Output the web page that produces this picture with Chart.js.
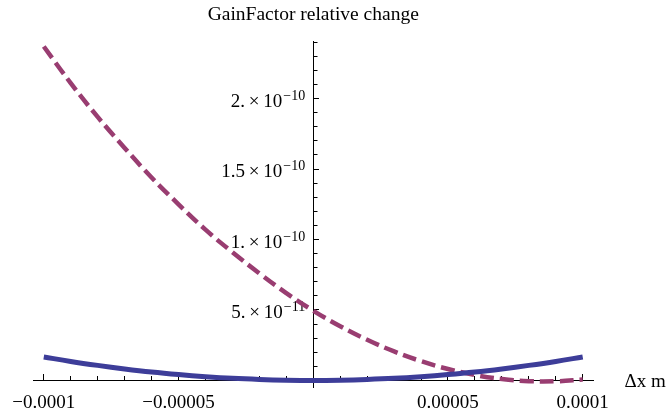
<!DOCTYPE html>
<html>
<head>
<meta charset="utf-8">
<script src="https://cdn.jsdelivr.net/npm/chart.js@4.4.1/dist/chart.umd.min.js"></script>
<style>
  html, body { margin: 0; padding: 0; background: #fff; }
  #wrap { width: 668px; height: 413px; }
</style>
</head>
<body>
<div id="wrap"><canvas id="chart" width="668" height="413"></canvas></div>
<script>
// values
const xs = [-0.0001, -0.00009, -0.00008, -0.00007, -0.00006, -0.00005, -0.00004,
  -0.00003, -0.00002, -0.00001, 0, 0.00001, 0.00002, 0.00003, 0.00004, 0.00005,
  0.00006, 0.00007, 0.00008, 0.00009, 0.0001];
const solidVals = [1.67e-11, 1.35e-11, 1.07e-11, 0.82e-11, 0.60e-11, 0.42e-11, 0.27e-11,
  0.15e-11, 0.07e-11, 0.02e-11, 0, 0.02e-11, 0.07e-11, 0.15e-11, 0.27e-11, 0.42e-11,
  0.60e-11, 0.82e-11, 1.07e-11, 1.35e-11, 1.67e-11];
const dashedVals = [2.37e-10, 2.11e-10, 1.87e-10, 1.65e-10, 1.44e-10, 1.25e-10, 1.07e-10,
  0.91e-10, 0.76e-10, 0.62e-10, 0.495e-10, 0.385e-10, 0.289e-10, 0.206e-10, 0.137e-10,
  0.081e-10, 0.039e-10, 0.010e-10, -0.005e-10, -0.006e-10, 0.006e-10];

const xTickValues = [-0.0001, -0.00005, 0.00005, 0.0001];
const xTickLabels = ["\u22120.0001", "\u22120.00005", "0.00005", "0.0001"];
const yTickValues = [5e-11, 1e-10, 1.5e-10, 2e-10];
const yTickMantissas = ["5.\u2009\u00d7\u200910", "1.\u2009\u00d7\u200910",
  "1.5\u2009\u00d7\u200910", "2.\u2009\u00d7\u200910"];
const yTickExponents = ["\u221211", "\u221210", "\u221210", "\u221210"];

const serif = "'Liberation Serif', 'Times New Roman', serif";
const mainFont = "19px " + serif;
const supFont = "14px " + serif;

function pickLabel(values, labels, v, tol) {
  for (let i = 0; i < values.length; i++) {
    if (Math.abs(values[i] - v) < tol) return labels[i];
  }
  return "";
}

// centred axes should not push the plot area in
function noPadding(scale) {
  scale.paddingLeft = 0;
  scale.paddingRight = 0;
  scale.paddingTop = 0;
  scale.paddingBottom = 0;
}

// y tick labels with real superscripts, left of the centred y axis
const yLabels = {
  id: "yLabels",
  beforeDatasetsDraw(chart) {
    const ctx = chart.ctx;
    const axisX = chart.scales.x.getPixelForValue(0);
    const yScale = chart.scales.y;
    ctx.save();
    ctx.fillStyle = "#000";
    ctx.textAlign = "left";
    ctx.textBaseline = "alphabetic";
    yTickValues.forEach((v, i) => {
      const py = yScale.getPixelForValue(v);
      ctx.font = supFont;
      const sw = ctx.measureText(yTickExponents[i]).width;
      ctx.font = mainFont;
      const mw = ctx.measureText(yTickMantissas[i]).width;
      const right = axisX - 8;
      ctx.fillText(yTickMantissas[i], right - sw - mw - 1, py + 8);
      ctx.font = supFont;
      ctx.fillText(yTickExponents[i], right - sw, py + 1);
    });
    ctx.restore();
  }
};

const axisLabel = {
  id: "axisLabel",
  afterDraw(chart) {
    const ctx = chart.ctx;
    const y = chart.scales.y.getPixelForValue(0);
    ctx.save();
    ctx.font = mainFont;
    ctx.fillStyle = "#000";
    ctx.textBaseline = "middle";
    ctx.fillText("\u0394x m", chart.chartArea.right + 31, y + 2);
    ctx.restore();
  }
};

new Chart(document.getElementById("chart"), {
  type: "line",
  data: {
    datasets: [
      {
        data: xs.map((x, i) => ({ x, y: solidVals[i] })),
        borderColor: "rgb(61,61,153)",
        borderWidth: 5,
        pointRadius: 0,
        tension: 0.4,
        xAxisID: "x",
        yAxisID: "y"
      },
      {
        data: xs.map((x, i) => ({ x, y: dashedVals[i] })),
        borderColor: "rgb(153,61,113)",
        borderWidth: 4.5,
        borderDash: [14, 6],
        pointRadius: 0,
        tension: 0.4,
        xAxisID: "x",
        yAxisID: "y"
      }
    ]
  },
  options: {
    responsive: false,
    animation: false,
    devicePixelRatio: 1,
    layout: { padding: { left: 33, right: 74.5, top: 3, bottom: 25.5 } },
    plugins: {
      legend: { display: false },
      tooltip: { enabled: false },
      title: {
        display: true,
        text: "GainFactor relative change",
        color: "#000",
        fullSize: false,
        font: { family: serif, size: 19.5, weight: "normal" },
        padding: { top: 0, bottom: 15 }
      }
    },
    scales: {
      x: {
        type: "linear",
        position: { y: 0 },
        min: -0.000104,
        max: 0.000104,
        afterFit: noPadding,
        border: { color: "#000", width: 1 },
        grid: { drawOnChartArea: false, color: "#000", tickLength: -7 },
        ticks: {
          stepSize: 0.00005,
          includeBounds: false,
          autoSkip: false,
          maxRotation: 0,
          padding: 18,
          color: "#000",
          font: { family: serif, size: 19 },
          callback: v => pickLabel(xTickValues, xTickLabels, v, 1e-9)
        }
      },
      xMinor: {
        type: "linear",
        axis: "x",
        position: { y: 0 },
        min: -0.000104,
        max: 0.000104,
        afterFit: noPadding,
        border: { display: false },
        grid: { drawOnChartArea: false, color: "#000", tickLength: -4 },
        ticks: { stepSize: 0.00001, includeBounds: false, autoSkip: false, maxRotation: 0, callback: () => "" }
      },
      y: {
        type: "linear",
        position: { x: 0 },
        min: -0.05e-10,
        max: 2.406e-10,
        afterFit: noPadding,
        border: { color: "#000", width: 1 },
        grid: { drawOnChartArea: false, color: "#000", tickLength: -6 },
        ticks: { stepSize: 5e-11, includeBounds: false, autoSkip: false, callback: () => "" }
      },
      yMinor: {
        type: "linear",
        axis: "y",
        position: { x: 0 },
        min: -0.05e-10,
        max: 2.406e-10,
        afterFit: noPadding,
        border: { display: false },
        grid: { drawOnChartArea: false, color: "#000", tickLength: -4.5 },
        ticks: { stepSize: 1e-11, includeBounds: false, autoSkip: false, callback: () => "" }
      }
    }
  },
  plugins: [yLabels, axisLabel]
});
</script>
</body>
</html>
